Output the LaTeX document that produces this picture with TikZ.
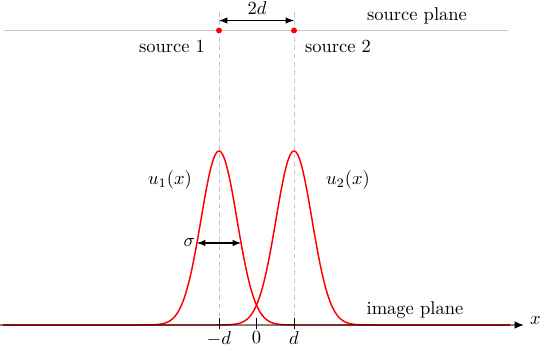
\documentclass[tikz,border=0pt]{standalone}
\usetikzlibrary{arrows.meta}
\begin{document}
\begin{tikzpicture}[x=0.54pt,y=-0.54pt,
  guide/.style={gray!45,line width=0.5pt,dash pattern=on 2.5pt off 2pt},
  plane/.style={gray!45,line width=0.6pt},
  curve/.style={red,line width=0.8pt},
  dim/.style={{Latex[length=4.5pt,width=3.5pt]}-{Latex[length=4.5pt,width=3.5pt]},line width=0.6pt},
  src/.style={circle,fill=red,inner sep=0pt,minimum size=3.2pt},
  lbl/.style={inner sep=1pt}]
\useasboundingbox (0,0) rectangle (540,346);
% planes
\coordinate (spL) at (4,30.5);
\coordinate (spR) at (508,30.5);
\draw[plane] (spL) -- (spR);
\node[lbl] (splabel) at (417,16) {source plane};
% guides
\coordinate (g1t) at (219,12);
\coordinate (g1b) at (219,325);
\coordinate (g2t) at (294,12);
\coordinate (g2b) at (294,325);
\draw[guide] (g1t) -- (g1b);
\draw[guide] (g2t) -- (g2b);
% curves
\draw[curve] (3,325) -- plot[domain=138:300,samples=120,smooth] (\x,{325-174*exp(-0.5*((\x-219)/18)^2)}) -- (510,325);
\draw[curve] (3,325) -- plot[domain=213:375,samples=120,smooth] (\x,{325-174*exp(-0.5*((\x-294)/18)^2)}) -- (510,325);
% axis
\coordinate (axL) at (0,325);
\coordinate (axM) at (515,325);
\coordinate (axR) at (524,325);
\draw[black,opacity=0.5,line width=0.7pt] (axL) -- (axM);
\draw[black,line width=0.7pt,-{Latex[length=5pt,width=4pt]}] (axM) -- (axR);
\node[lbl,anchor=west] (xl) at (528,321) {$x$};
\node[lbl] (iplabel) at (415,310) {image plane};
% ticks
\foreach \p/\t/\n in {219/{-d}/tA,256.5/0/tB,294/d/tC}{
  \draw[line width=0.5pt] (\p,318) -- (\p,329);
  \node[lbl,anchor=north] (\n) at (\p,329.5) {$\t$};
}
% sources
\node[src] (s1) at (219,30.5) {};
\node[src] (s2) at (294,30.5) {};
\node[lbl] (s1l) at (172,46) {source 1};
\node[lbl] (s2l) at (338,46) {source 2};
% 2d
\coordinate (dA) at (219,20.5);
\coordinate (dB) at (294,20.5);
\draw[dim] (dA) -- (dB);
\node[lbl] (dl) at (257,8) {$2d$};
% labels
\node[lbl] (u1) at (170,180) {$u_1(x)$};
\node[lbl] (u2) at (348,180) {$u_2(x)$};
% sigma
\coordinate (sgA) at (197,243);
\coordinate (sgB) at (241,243);
\draw[dim] (sgA) -- (sgB);
\node[lbl,anchor=east] (sg) at (sgA) {$\sigma$};
\end{tikzpicture}
\end{document}
